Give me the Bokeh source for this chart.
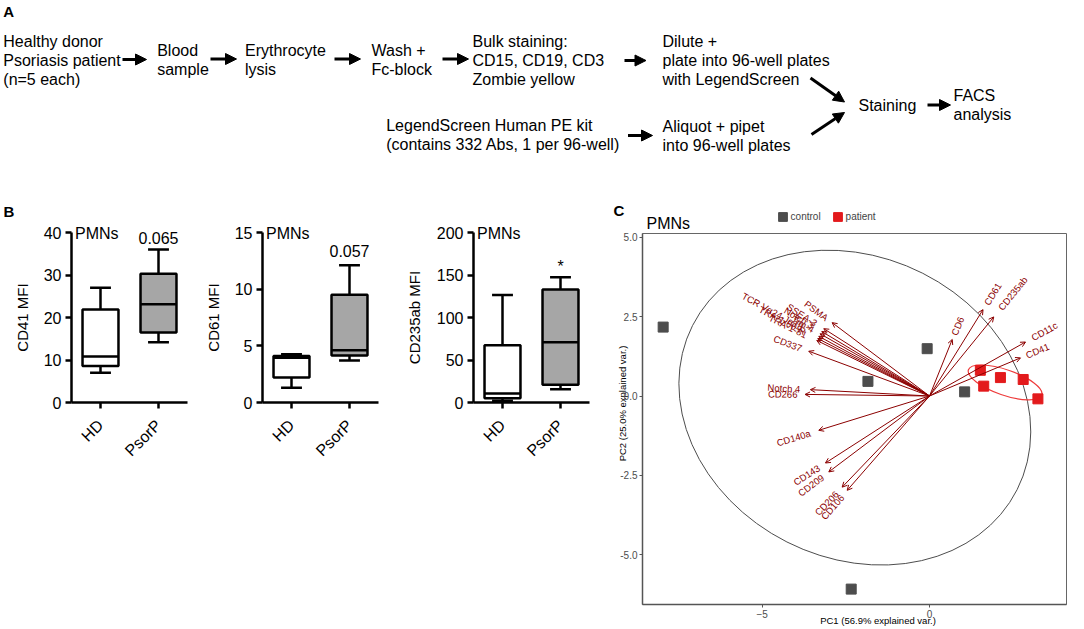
import math
from bokeh.plotting import figure
from bokeh.models import (Range1d, Arrow, NormalHead, OpenHead, FixedTicker,
                          ColumnDataSource, Legend, LegendItem, NumeralTickFormatter,
                          LinearAxis)
from bokeh.embed import file_html
from bokeh.resources import INLINE
from bokeh.core.properties import value

FONT = value("Liberation Sans")
W, H = 1084, 627

# ---------------- data ----------------
# Panel A: workflow boxes (one list of lines per box)
flow_boxes = [
    ["Healthy donor", "Psoriasis patient", "(n=5 each)"],
    ["Blood", "sample"],
    ["Erythrocyte", "lysis"],
    ["Wash +", "Fc-block"],
    ["Bulk staining:", "CD15, CD19, CD3", "Zombie yellow"],
    ["Dilute +", "plate into 96-well plates", "with LegendScreen"],
    ["LegendScreen Human PE kit", "(contains 332 Abs, 1 per 96-well)"],
    ["Aliquot + pipet", "into 96-well plates"],
    ["Staining"],
    ["FACS", "analysis"],
]

# Panel B: box statistics [min, Q1, median, Q3, max]
groups = ["HD", "PsorP"]
cd41_hd = [7.0, 8.6, 10.8, 21.9, 27.0]
cd41_psorp = [14.2, 16.5, 23.1, 30.3, 36.0]
cd61_hd = [1.3, 2.2, 3.95, 4.1, 4.25]
cd61_psorp = [3.7, 4.15, 4.6, 9.5, 12.1]
cd235ab_hd = [2.0, 5.0, 10.5, 67.5, 126.5]
cd235ab_psorp = [15.5, 21.0, 71.0, 133.0, 147.5]
p_values = ["0.065", "0.057", "*"]

# Panel C: PCA scores and loadings
control_pc1 = [-7.96, -2.34, -1.84, -0.07, 1.05]
control_pc2 = [2.17, -6.08, 0.46, 1.49, 0.13]
patient_pc1 = [1.52, 1.62, 2.12, 2.80, 3.24]
patient_pc2 = [0.81, 0.31, 0.58, 0.52, -0.09]
loading_names = ["PSMA", "SSEA-3", "Notch 3", "Tim-4", "TCR Vα24-Jα18", "TRA-1-60-R",
                 "TRA-1-81", "CD337", "Notch 4", "CD266", "CD140a", "CD143", "CD209",
                 "CD206", "CD106", "CD6", "CD61", "CD235ab", "CD11c", "CD41"]
loading_pc1 = [-2.91, -3.16, -3.22, -3.27, -3.31, -3.34, -3.37, -3.61, -3.56, -3.72,
               -3.31, -3.11, -3.01, -2.61, -2.46, 0.68, 1.60, 1.92, 2.87, 2.72]
loading_pc2 = [2.31, 2.12, 2.03, 1.96, 1.88, 1.81, 1.75, 1.41, 0.20, 0.05,
               -1.08, -2.11, -2.39, -2.87, -2.97, 1.78, 2.72, 2.49, 1.70, 1.20]
# ellipse sizes [width PC1, height PC2, angle rad]
control_ellipse = [10.87, 9.48, -0.468]
patient_ellipse = [2.32, 0.80, -0.333]

# ---------------- canvas ----------------
p = figure(width=W, height=H, x_range=Range1d(0, W), y_range=Range1d(H, 0),
           x_axis_type=None, y_axis_type=None, min_border=0,
           output_backend="svg", toolbar_location=None)
p.outline_line_color = None


def x_range_from(va, pxa, vb, pxb):
    s = (pxb - pxa) / (vb - va)
    start = va - pxa / s
    return Range1d(start, start + W / s)


def y_range_from(va, pya, vb, pyb):
    s = (pya - pyb) / (vb - va)
    start = va - (H - pya) / s
    return Range1d(start, start + H / s)


# ---------------- panel A ----------------
box_pos = [(2.8, 40.5), (156.7, 50), (244.5, 50), (371, 50), (472, 40.5), (662, 40.5),
           (385.7, 124.5), (662, 126), (858, 104.5), (953, 95)]
tx, ty, tt = [], [], []
for lines, (x0, y0) in zip(flow_boxes, box_pos):
    for k, ln in enumerate(lines):
        tx.append(x0); ty.append(y0 + 19 * k); tt.append(ln)
p.text(x=tx, y=ty, text=tt, text_font_size="16px", text_font=FONT,
       text_baseline="middle", text_align="left", text_color="black")
arrows_a = [(122, 59, 146, 59), (210, 58.5, 236, 58.5), (334, 58.5, 360, 58.5),
            (442, 58.5, 468, 58.5), (624, 60, 645.5, 60), (627.5, 135, 652, 135),
            (810, 77.5, 844, 101.5), (811, 134, 844, 112), (927, 104.5, 950, 104.5)]
for (x0, y0, x1, y1) in arrows_a:
    p.add_layout(Arrow(x_start=x0, y_start=y0, x_end=x1, y_end=y1, line_width=3,
                       line_color="black",
                       end=NormalHead(size=11, fill_color="black", line_color="black",
                                      line_width=1)))
# panel letters
p.text(x=[2.8, 3, 613], y=[10.8, 210.5, 210], text=["A", "B", "C"], text_font=FONT,
       text_font_size="15px", text_font_style="bold", text_baseline="middle")

# ---------------- panel B ----------------
gx = [i + 1 for i in range(len(groups))]


def box_panel(key, hd, ps, ymax, ystep, ylabel, sig, sig_y, axis_x, als):
    xr, yr = key + "x", key + "y"
    p.extra_x_ranges[xr] = x_range_from(0.5, axis_x, 2.5, axis_x + 116)
    p.extra_y_ranges[yr] = y_range_from(0, 402, ymax, 232)
    src = ColumnDataSource(dict(x=gx, lo=[hd[0], ps[0]], q1=[hd[1], ps[1]],
                                med=[hd[2], ps[2]], q3=[hd[3], ps[3]], hi=[hd[4], ps[4]],
                                fill=["white", "#a6a6a6"]))
    kw = dict(source=src, line_color="black", line_width=2.5, x_range_name=xr,
              y_range_name=yr)
    p.segment(x0="x", y0="lo", x1="x", y1="q1", **kw)
    p.segment(x0="x", y0="q3", x1="x", y1="hi", **kw)
    p.vbar(x="x", width=0.36, bottom="lo", top="lo", fill_color=None, **kw)
    p.vbar(x="x", width=0.36, bottom="hi", top="hi", fill_color=None, **kw)
    p.vbar(x="x", width=0.62, bottom="q1", top="q3", fill_color="fill", **kw)
    p.vbar(x="x", width=0.62, bottom="med", top="med", fill_color=None, **kw)

    yax = LinearAxis(y_range_name=yr, fixed_location=axis_x, bounds=(0, ymax),
                     ticker=FixedTicker(ticks=list(range(0, ymax + 1, ystep))))
    xax = LinearAxis(x_range_name=xr, y_range_name=yr, fixed_location=0, bounds=(0.5, 2.5),
                     ticker=FixedTicker(ticks=gx),
                     major_label_overrides={g: n for g, n in zip(gx, groups)})
    for ax in (xax, yax):
        ax.axis_line_width = 2.5
        ax.axis_line_color = "black"
        ax.major_tick_line_width = 2.5
        ax.major_tick_line_color = "black"
        ax.major_tick_out = 6
        ax.major_tick_in = 0
        ax.minor_tick_out = 0
        ax.minor_tick_in = 0
        ax.major_label_text_font = "Liberation Sans"
        ax.major_label_text_font_size = "16px"
        ax.major_label_text_color = "black"
    yax.major_label_standoff = 4
    yax.axis_label = ylabel
    yax.axis_label_text_font = "Liberation Sans"
    yax.axis_label_text_font_size = "15px"
    yax.axis_label_text_font_style = "normal"
    yax.axis_label_text_color = "black"
    yax.axis_label_standoff = als
    xax.major_label_orientation = math.pi / 4
    xax.major_label_standoff = 14
    p.add_layout(yax, "left")
    p.add_layout(xax, "below")
    p.text(x=[axis_x + 3.5], y=[233], text=["PMNs"], text_font=FONT, text_font_size="16px",
           text_baseline="middle")
    p.text(x=[gx[1]], y=[sig_y], text=[sig], text_font=FONT, text_font_size="16px",
           text_align="center", text_baseline="middle", x_range_name=xr, y_range_name=yr)


box_panel("b1", cd41_hd, cd41_psorp, 40, 10, "CD41 MFI", p_values[0], 38.6, 71, 10)
box_panel("b2", cd61_hd, cd61_psorp, 15, 5, "CD61 MFI", p_values[1], 13.4, 262, 10)
box_panel("b3", cd235ab_hd, cd235ab_psorp, 200, 50, "CD235ab MFI", p_values[2], 160, 473, 11)

# ---------------- panel C ----------------
p.extra_x_ranges["cx"] = x_range_from(-5, 761.7, 0, 929)
p.extra_y_ranges["cy"] = y_range_from(-5, 554.3, 5, 236.7)
kx = (929 - 761.7) / 5
ky = (554.3 - 236.7) / 10
CX = ((642 - 929) / kx, (1066 - 929) / kx)
CY = ((395.5 - 604) / ky, (395.5 - 233) / ky)
C = dict(x_range_name="cx", y_range_name="cy")

DR = "#8b0000"
CTRL = "#4d4d4d"
PAT = "#e31a1c"

p.quad(left=[CX[0]], right=[CX[1]], bottom=[CY[0]], top=[CY[1]], fill_color=None,
       line_color="#666666", line_width=1, **C)
cxa = LinearAxis(fixed_location=CY[0], bounds=CX, ticker=FixedTicker(ticks=[-5, 0]), **C)
cya = LinearAxis(fixed_location=CX[0], bounds=CY,
                 ticker=FixedTicker(ticks=[-5, -2.5, 0, 2.5, 5]),
                 formatter=NumeralTickFormatter(format="0.0"), **C)
for ax in (cxa, cya):
    ax.axis_line_color = "#555555"
    ax.axis_line_width = 1.5
    ax.major_tick_line_color = "#555555"
    ax.major_tick_out = 3
    ax.major_tick_in = 0
    ax.minor_tick_out = 0
    ax.minor_tick_in = 0
    ax.major_label_text_font = "Liberation Sans"
    ax.major_label_text_font_size = "10px"
    ax.major_label_text_color = "#4d4d4d"
    ax.major_label_standoff = 2
p.add_layout(cxa, "below")
p.add_layout(cya, "left")

# ellipses around group means
c_cx = sum(control_pc1) / len(control_pc1)
c_cy = sum(control_pc2) / len(control_pc2)
p_cx = sum(patient_pc1) / len(patient_pc1)
p_cy = sum(patient_pc2) / len(patient_pc2)
p.ellipse(x=[c_cx], y=[c_cy], width=control_ellipse[0], height=control_ellipse[1],
          angle=control_ellipse[2], fill_color=None, line_color="#4d4d4d", line_width=1, **C)
p.ellipse(x=[p_cx], y=[p_cy], width=patient_ellipse[0], height=patient_ellipse[1],
          angle=patient_ellipse[2], fill_color=None, line_color="#ee3b3b", line_width=1.2, **C)

# loadings
lsrc = ColumnDataSource(dict(x=loading_pc1, y=loading_pc2, name=loading_names))
p.add_layout(Arrow(x_start=0, y_start=0, x_end="x", y_end="y", source=lsrc,
                   line_color=DR, line_width=1,
                   end=OpenHead(size=5, line_color=DR, line_width=1), **C))
LFS = 9.5
for side in ("left", "right"):
    xs, ys, nm, an, xo, yo = [], [], [], [], [], []
    for x, y, n in zip(loading_pc1, loading_pc2, loading_names):
        if (x < 0) != (side == "left"):
            continue
        phi = math.atan2(y * ky, x * kx)
        gap = 1.0 + 0.25 * 0.55 * LFS * len(n)     # ggbiplot-like label push-out
        xs.append(x); ys.append(y); nm.append(n)
        an.append(math.atan((y * ky) / (x * kx)))
        xo.append(gap * math.cos(phi)); yo.append(-gap * math.sin(phi))
    tsrc = ColumnDataSource(dict(x=xs, y=ys, name=nm, angle=an, xo=xo, yo=yo))
    p.text(x="x", y="y", text="name", angle="angle", x_offset="xo", y_offset="yo",
           source=tsrc, text_align="right" if side == "left" else "left",
           text_baseline="middle", text_font=FONT, text_font_size=f"{LFS}px",
           text_color=DR, **C)

# scores (square marks, sized in screen pixels)
rc = p.rect(control_pc1, control_pc2, width=10, height=10, width_units="screen",
            height_units="screen", fill_color=CTRL, line_color=CTRL, **C)
rp = p.rect(patient_pc1, patient_pc2, width=10, height=10, width_units="screen",
            height_units="screen", fill_color=PAT, line_color=PAT, **C)

legend = Legend(items=[LegendItem(label="control", renderers=[rc]),
                       LegendItem(label="patient", renderers=[rp])],
                orientation="horizontal", location=(776.6, H - 221.8),
                glyph_width=11, glyph_height=11, label_text_font="Liberation Sans",
                label_text_font_size="10px", label_standoff=3, spacing=11, padding=0,
                margin=0, border_line_color=None, background_fill_alpha=0,
                label_height=11)
p.add_layout(legend)

p.text(x=[646], y=[223], text=["PMNs"], text_font=FONT, text_font_size="16px",
       text_baseline="middle")
p.text(x=[622], y=[403], text=["PC2 (25.0% explained var.)"], angle=math.pi / 2,
       text_font=FONT, text_font_size="9.5px", text_align="center", text_baseline="middle")
p.text(x=[877.5], y=[620], text=["PC1 (56.9% explained var.)"], text_font=FONT,
       text_font_size="9.5px", text_align="center", text_baseline="middle")

open("out.html", "w").write(file_html(p, INLINE))
